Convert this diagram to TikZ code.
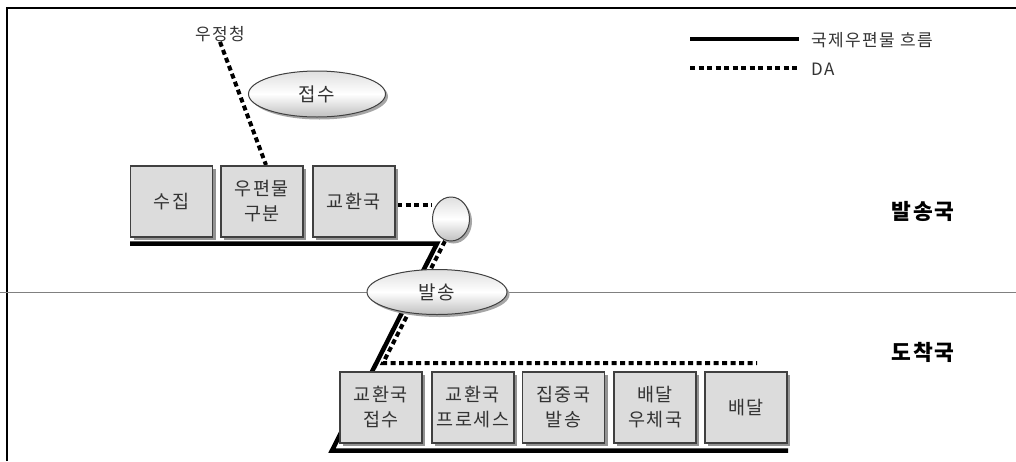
\documentclass[tikz,border=0pt]{standalone}
\usepackage{fontspec}
\newfontfamily\kr{Noto Sans CJK KR}[LetterSpace=8]
\usetikzlibrary{shadows,backgrounds,shapes.geometric}
\definecolor{boxfill}{HTML}{DCDCDC}
\definecolor{txt}{HTML}{333333}
\definecolor{edge}{HTML}{404040}
\begin{document}
\begin{tikzpicture}[x=1pt,y=-1pt,
  stepbox/.style={draw=edge, line width=1.2pt, fill=boxfill,
    minimum width=82pt, minimum height=71pt, inner sep=0pt, align=center,
    text=txt, font=\kr\fontsize{18.5}{25}\selectfont,
    drop shadow={shadow xshift=3pt, shadow yshift=-3pt, fill=gray!85, opacity=1}},
  oval/.style={ellipse, draw=edge, line width=1pt, inner sep=0pt,
    top color=gray!25, bottom color=gray!50, middle color=white,
    text=txt, font=\kr\fontsize{19}{22}\selectfont,
    drop shadow={shadow xshift=2.5pt, shadow yshift=-2.5pt, fill=gray!70, opacity=1}},
  lbl/.style={text=txt, inner sep=0pt, font=\kr\fontsize{17}{20}\selectfont},
  region/.style={text=black, inner sep=0pt, font=\kr\bfseries\fontsize{21.5}{24}\selectfont},
  flow/.style={line width=4.5pt},
  da/.style={line width=4pt, dash pattern=on 5pt off 3.5pt},
]
\useasboundingbox (0,0) rectangle (1016,461);

% top row
\node[stepbox] (b1) at (171.5,201.5) {수집};
\node[stepbox] (b2) at (262,201.5) {우편물\\구분};
\node[stepbox] (b3) at (354,201.5) {교환국};
% bottom row
\node[stepbox] (c1) at (381,407.5) {교환국\\접수};
\node[stepbox] (c2) at (473,407.5) {교환국\\프로세스};
\node[stepbox] (c3) at (563.5,407.5) {집중국\\발송};
\node[stepbox] (c4) at (655,407.5) {배달\\우체국};
\node[stepbox] (c5) at (746,407.5) {배달};

% ellipses
\node[oval, minimum width=137pt, minimum height=46pt] (recv) at (317,94) {접수};
\node[oval, minimum width=37pt, minimum height=44pt] (sm) at (451,219) {};
\node[oval, minimum width=140pt, minimum height=45pt] (send) at (437,292) {발송};

% labels
\node[lbl] (ujc) at (220,34) {우정청};
\node[region] (snd) at (923,211) {발송국};
\node[region] (arr) at (923,352) {도착국};

% legend
\coordinate (l1a) at (690,39);
\coordinate (l1b) at (799,39);
\coordinate (l2a) at (690,68);
\coordinate (l2b) at (799,68);
\node[lbl, anchor=west] (lt1) at (811,40) {국제우편물 흐름};
\node[lbl, anchor=west] (lt2) at (811,69) {DA};
\draw[flow] (l1a) -- (l1b);
\draw[da] (l2a) -- (l2b);

% path coordinates
\coordinate (s0) at (130,243.5);
\coordinate (s1) at (437,243.5);
\coordinate (s2) at (332,450.5);
\coordinate (s3) at (788,450.5);
\coordinate (d1) at (445,241);
\coordinate (d2) at (383,363);
\coordinate (d3) at (757,363);
\coordinate (u1) at (266,165);
\coordinate (e1) at (397,205);
\coordinate (e2) at (432,205);

\begin{scope}[on background layer]
  \draw[line width=1.3pt] (7,461) -- (7,8) -- (1016,8);
  \draw[line width=1pt, gray] (0,292) -- (1016,292);
  \draw[flow] (s0) -- (s1) -- (s2) -- (s3);
  \draw[da] (d1) -- (d2) -- (d3);
  \draw[da] (ujc.south) -- (u1);
  \draw[da] (e1) -- (e2);
\end{scope}
\end{tikzpicture}
\end{document}
